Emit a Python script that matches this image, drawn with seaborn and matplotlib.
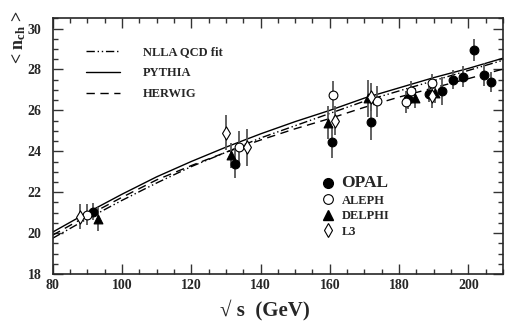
import numpy as np
import pandas as pd
import seaborn as sns
import matplotlib.pyplot as plt
from matplotlib.ticker import MultipleLocator
from matplotlib.lines import Line2D

# model curves
energy = [80, 90, 100, 110, 120, 130, 140, 150, 160, 170, 180, 190, 200, 210]
nlla = [19.75, 20.7, 21.6, 22.45, 23.25, 23.95, 24.65, 25.25, 25.85, 26.45, 26.95, 27.45, 27.95, 28.45]
pythia = [20.05, 21.0, 21.9, 22.75, 23.5, 24.2, 24.85, 25.45, 26.0, 26.6, 27.1, 27.6, 28.05, 28.55]
herwig = [19.9, 20.85, 21.75, 22.6, 23.3, 23.95, 24.55, 25.1, 25.6, 26.15, 26.65, 27.1, 27.55, 28.02]

# measurements
opal_e = [91.5, 132.7, 160.5, 171.8, 182.5, 188.6, 192.5, 195.6, 198.5, 201.6, 204.5, 206.6]
opal_n = [21.05, 23.4, 24.45, 25.45, 26.55, 26.8, 26.95, 27.5, 27.65, 28.95, 27.75, 27.4]
opal_err = [0.4, 0.7, 0.8, 0.9, 0.5, 0.4, 0.7, 0.45, 0.5, 0.55, 0.55, 0.5]

aleph_e = [89.8, 133.9, 161.0, 173.5, 181.9, 183.4, 189.4]
aleph_n = [20.9, 24.2, 26.75, 26.45, 26.4, 26.95, 27.35]
aleph_err = [0.5, 0.8, 0.7, 0.75, 0.55, 0.5, 0.45]

delphi_e = [93.0, 131.6, 159.4, 171.0, 184.6, 190.5]
delphi_n = [20.7, 23.8, 25.4, 26.6, 26.6, 26.85]
delphi_err = [0.6, 0.6, 0.8, 0.9, 0.5, 0.5]

l3_e = [88.0, 130.0, 136.0, 161.5, 172.0, 189.6]
l3_n = [20.8, 24.9, 24.2, 25.5, 26.65, 26.7]
l3_err = [0.6, 0.85, 0.9, 0.7, 0.7, 0.6]

sns.set_theme(style="ticks")
plt.rcParams['font.family'] = ['Liberation Serif', 'DejaVu Serif']
plt.rcParams['font.weight'] = 'bold'
plt.rcParams['mathtext.fontset'] = 'custom'
plt.rcParams['mathtext.rm'] = 'Liberation Serif:bold'
plt.rcParams['mathtext.bf'] = 'Liberation Serif:bold'
plt.rcParams['mathtext.it'] = 'Liberation Serif:bold'

fig = plt.figure(figsize=(5.3, 3.27), dpi=100)
ax = fig.add_axes([0.0994, 0.162, 0.8496, 0.782])

curves = pd.DataFrame({"E": energy, "nlla": nlla, "pythia": pythia, "herwig": herwig})
sns.lineplot(data=curves, x="E", y="nlla", ax=ax, color="black", lw=1.0, linestyle=(0, (6, 2, 1, 2, 1, 2)))
sns.lineplot(data=curves, x="E", y="pythia", ax=ax, color="black", lw=1.0, linestyle="-")
sns.lineplot(data=curves, x="E", y="herwig", ax=ax, color="black", lw=1.0, linestyle=(0, (6, 4)))

experiments = [
    ("OPAL", opal_e, opal_n, opal_err, "o", "black", 40),
    ("ALEPH", aleph_e, aleph_n, aleph_err, "o", "white", 40),
    ("DELPHI", delphi_e, delphi_n, delphi_err, "^", "black", 40),
    ("L3", l3_e, l3_n, l3_err, "d", "white", 45),
]
for name, e, n, err, mk, fc, sz in experiments:
    ax.errorbar(e, n, yerr=err, fmt="none", ecolor="#555555", elinewidth=1.3, zorder=3)
    df = pd.DataFrame({"E": e, "n": n})
    sns.scatterplot(data=df, x="E", y="n", ax=ax, marker=mk, s=sz, color=fc,
                    edgecolor="black", linewidth=0.8, zorder=4)

ax.set_xlim(80, 210)
ax.set_ylim(18, 30.5)
ax.xaxis.set_major_locator(MultipleLocator(20))
ax.xaxis.set_minor_locator(MultipleLocator(5))
ax.yaxis.set_major_locator(MultipleLocator(2))
ax.yaxis.set_minor_locator(MultipleLocator(0.5))
ax.tick_params(which="both", direction="in", top=True, right=True, labelsize=10, width=1.0, color="#333333")
ax.tick_params(which="major", length=7)
ax.tick_params(which="minor", length=3.5)
ax.tick_params(axis="y", pad=8)
for lab in ax.get_xticklabels() + ax.get_yticklabels():
    lab.set_fontweight("bold")
for sp in ax.spines.values():
    sp.set_linewidth(1.2)

ax.set_xlabel("\u221a s  (GeV)", fontsize=15, fontweight="bold")
ax.xaxis.set_label_coords(0.472, -0.1)
ax.set_ylabel(r"< n$_{\rm ch}$ >", fontsize=13, fontweight="bold", ha="right")
ax.yaxis.set_label_coords(-0.055, 1.03)

line_handles = [
    Line2D([], [], color="black", lw=1.0, linestyle=(0, (6, 2, 1, 2, 1, 2))),
    Line2D([], [], color="black", lw=1.0, linestyle="-"),
    Line2D([], [], color="black", lw=1.0, linestyle=(0, (6, 4))),
]
leg1 = ax.legend(line_handles, ["NLLA QCD fit", "PYTHIA", "HERWIG"], loc="upper left",
                 bbox_to_anchor=(0.05, 0.935), frameon=False,
                 handlelength=2.7, handletextpad=1.8, labelspacing=0.72,
                 prop={"family": "Liberation Serif", "weight": "bold", "size": 9})
ax.add_artist(leg1)

mark_handles = [
    Line2D([], [], marker="o", color="black", linestyle="none", markersize=7),
    Line2D([], [], marker="o", color="black", markerfacecolor="white", linestyle="none", markersize=7, markeredgewidth=0.8),
    Line2D([], [], marker="^", color="black", linestyle="none", markersize=7),
    Line2D([], [], marker="d", color="black", markerfacecolor="white", linestyle="none", markersize=7, markeredgewidth=0.8),
]
leg2 = ax.legend(mark_handles, ["OPAL", "ALEPH", "DELPHI", "L3"], loc="upper left",
                 bbox_to_anchor=(0.572, 0.43), frameon=False,
                 handlelength=1.0, handletextpad=0.6, labelspacing=0.28,
                 prop={"family": "Liberation Serif", "weight": "bold", "size": 9})
leg2.get_texts()[0].set_fontsize(12.5)

fig.savefig("out.png", dpi=100)
